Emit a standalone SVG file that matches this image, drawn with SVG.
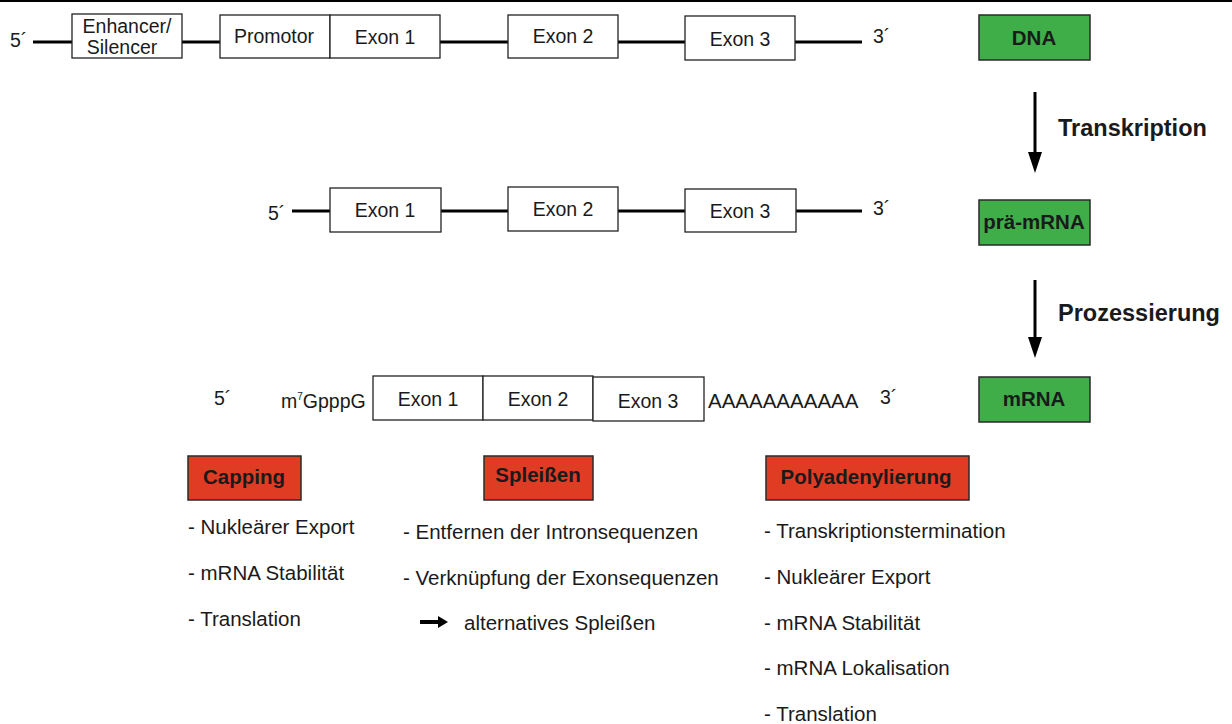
<svg xmlns="http://www.w3.org/2000/svg" width="1232" height="724" viewBox="0 0 1232 724">
  <defs>
    <style>
      text { font-family: "Liberation Sans", Arial, sans-serif; fill: #1a1a1a; }
      .lbl { font-size: 19.5px; }
      .item { font-size: 20.5px; }
      .mid { text-anchor: middle; }
      .bold { font-weight: bold; }
      .stage { font-size: 23.5px; font-weight: bold; }
      .strand { stroke: #000; stroke-width: 3; fill: none; }
      .exon { fill: #fff; stroke: #222; stroke-width: 1.3; }
      .green { fill: #3fae49; stroke: #2a2a2a; stroke-width: 1.5; }
      .red { fill: #e03c24; stroke: #2a2a2a; stroke-width: 1.5; }
      .arrow { stroke: #000; stroke-width: 3; fill: none; }
    </style>
  </defs>

  <rect width="1232" height="724" fill="#fff"/>
  <rect x="0" y="0" width="1232" height="2" fill="#000"/>

  <!-- DNA strand -->
  <g id="dna-strand">
    <text class="lbl" x="10" y="47">5´</text>
    <line class="strand" x1="33" y1="42" x2="72" y2="42"/>
    <line class="strand" x1="182" y1="42" x2="220" y2="42"/>
    <line class="strand" x1="440" y1="42" x2="508" y2="42"/>
    <line class="strand" x1="618" y1="42" x2="685" y2="42"/>
    <line class="strand" x1="795" y1="42" x2="862" y2="42"/>
    <text class="lbl" x="873" y="43">3´</text>
  </g>
  <g id="dna-enhancer">
    <rect class="exon" x="72" y="14" width="110" height="44"/>
    <text class="lbl mid" x="127" y="33">Enhancer/</text>
    <text class="lbl mid" x="122" y="54">Silencer</text>
  </g>
  <g id="dna-promotor">
    <rect class="exon" x="220" y="15" width="110" height="43"/>
    <text class="lbl mid" x="274" y="43">Promotor</text>
  </g>
  <g id="dna-exon1">
    <rect class="exon" x="330" y="15" width="110" height="43"/>
    <text class="lbl mid" x="385" y="44">Exon 1</text>
  </g>
  <g id="dna-exon2">
    <rect class="exon" x="508" y="15" width="110" height="43"/>
    <text class="lbl mid" x="563" y="43">Exon 2</text>
  </g>
  <g id="dna-exon3">
    <rect class="exon" x="685" y="16" width="110" height="44"/>
    <text class="lbl mid" x="740" y="46">Exon 3</text>
  </g>

  <!-- pre-mRNA strand -->
  <g id="pre-strand">
    <text class="lbl" x="268" y="220">5´</text>
    <line class="strand" x1="292" y1="211" x2="330" y2="211"/>
    <line class="strand" x1="441" y1="211" x2="508" y2="211"/>
    <line class="strand" x1="618" y1="211" x2="685" y2="211"/>
    <line class="strand" x1="796" y1="211" x2="862" y2="211"/>
    <text class="lbl" x="873" y="215">3´</text>
  </g>
  <g id="pre-exon1">
    <rect class="exon" x="330" y="188" width="111" height="44"/>
    <text class="lbl mid" x="385" y="217">Exon 1</text>
  </g>
  <g id="pre-exon2">
    <rect class="exon" x="508" y="187" width="110" height="44"/>
    <text class="lbl mid" x="563" y="216">Exon 2</text>
  </g>
  <g id="pre-exon3">
    <rect class="exon" x="685" y="189" width="111" height="43"/>
    <text class="lbl mid" x="740" y="218">Exon 3</text>
  </g>

  <!-- mature mRNA -->
  <g id="mrna-strand">
    <text class="lbl" x="214" y="405">5´</text>
    <text class="lbl" x="281" y="408">m<tspan font-size="10" dy="-8">7</tspan><tspan dy="8">GpppG</tspan></text>
    <text class="item" x="708" y="408">AAAAAAAAAAA</text>
    <text class="lbl" x="880" y="404">3´</text>
  </g>
  <g id="mrna-exon1">
    <rect class="exon" x="373" y="376" width="110" height="44"/>
    <text class="lbl mid" x="428" y="406">Exon 1</text>
  </g>
  <g id="mrna-exon2">
    <rect class="exon" x="483" y="376" width="110" height="44"/>
    <text class="lbl mid" x="538" y="406">Exon 2</text>
  </g>
  <g id="mrna-exon3">
    <rect class="exon" x="593" y="377" width="111" height="44"/>
    <text class="lbl mid" x="648" y="408">Exon 3</text>
  </g>

  <!-- stage labels -->
  <g id="stage-dna">
    <rect class="green" x="979" y="15" width="111" height="45"/>
    <text class="item bold mid" x="1034" y="45">DNA</text>
  </g>
  <g id="stage-pre-mrna">
    <rect class="green" x="979" y="200" width="111" height="45"/>
    <text class="item bold mid" x="1034" y="229">prä-mRNA</text>
  </g>
  <g id="stage-mrna">
    <rect class="green" x="979" y="377" width="111" height="45"/>
    <text class="item bold mid" x="1034" y="406">mRNA</text>
  </g>

  <!-- process arrows -->
  <g id="connectors">
    <line class="arrow" x1="1035" y1="92" x2="1035" y2="154"/>
    <polygon points="1028,152 1042,152 1035,173" fill="#000"/>
    <line class="arrow" x1="1035" y1="280" x2="1035" y2="339"/>
    <polygon points="1028,337 1042,337 1035,358" fill="#000"/>
  </g>
  <g id="label-transkription">
    <text class="stage" x="1058" y="136">Transkription</text>
  </g>
  <g id="label-prozessierung">
    <text class="stage" x="1058" y="321">Prozessierung</text>
  </g>

  <!-- processing steps -->
  <g id="capping">
    <rect class="red" x="188" y="456" width="113" height="44"/>
    <text class="item bold mid" x="244" y="484">Capping</text>
    <text class="item" x="188" y="534">- Nukleärer Export</text>
    <text class="item" x="188" y="580">- mRNA Stabilität</text>
    <text class="item" x="188" y="626">- Translation</text>
  </g>
  <g id="spleissen">
    <rect class="red" x="484" y="456" width="109" height="44"/>
    <text class="item bold mid" x="538" y="482">Spleißen</text>
    <text class="item" x="403" y="539">- Entfernen der Intronsequenzen</text>
    <text class="item" x="403" y="585">- Verknüpfung der Exonsequenzen</text>
    <line x1="420" y1="622" x2="440" y2="622" stroke="#000" stroke-width="4"/>
    <polygon points="438,616 448,622 438,628" fill="#000"/>
    <text class="item" x="464" y="630">alternatives Spleißen</text>
  </g>
  <g id="polyadenylierung">
    <rect class="red" x="766" y="456" width="203" height="44"/>
    <text class="item bold mid" x="866" y="484">Polyadenylierung</text>
    <text class="item" x="764" y="538">- Transkriptionstermination</text>
    <text class="item" x="764" y="584">- Nukleärer Export</text>
    <text class="item" x="764" y="630">- mRNA Stabilität</text>
    <text class="item" x="764" y="675">- mRNA Lokalisation</text>
    <text class="item" x="764" y="721">- Translation</text>
  </g>
</svg>
